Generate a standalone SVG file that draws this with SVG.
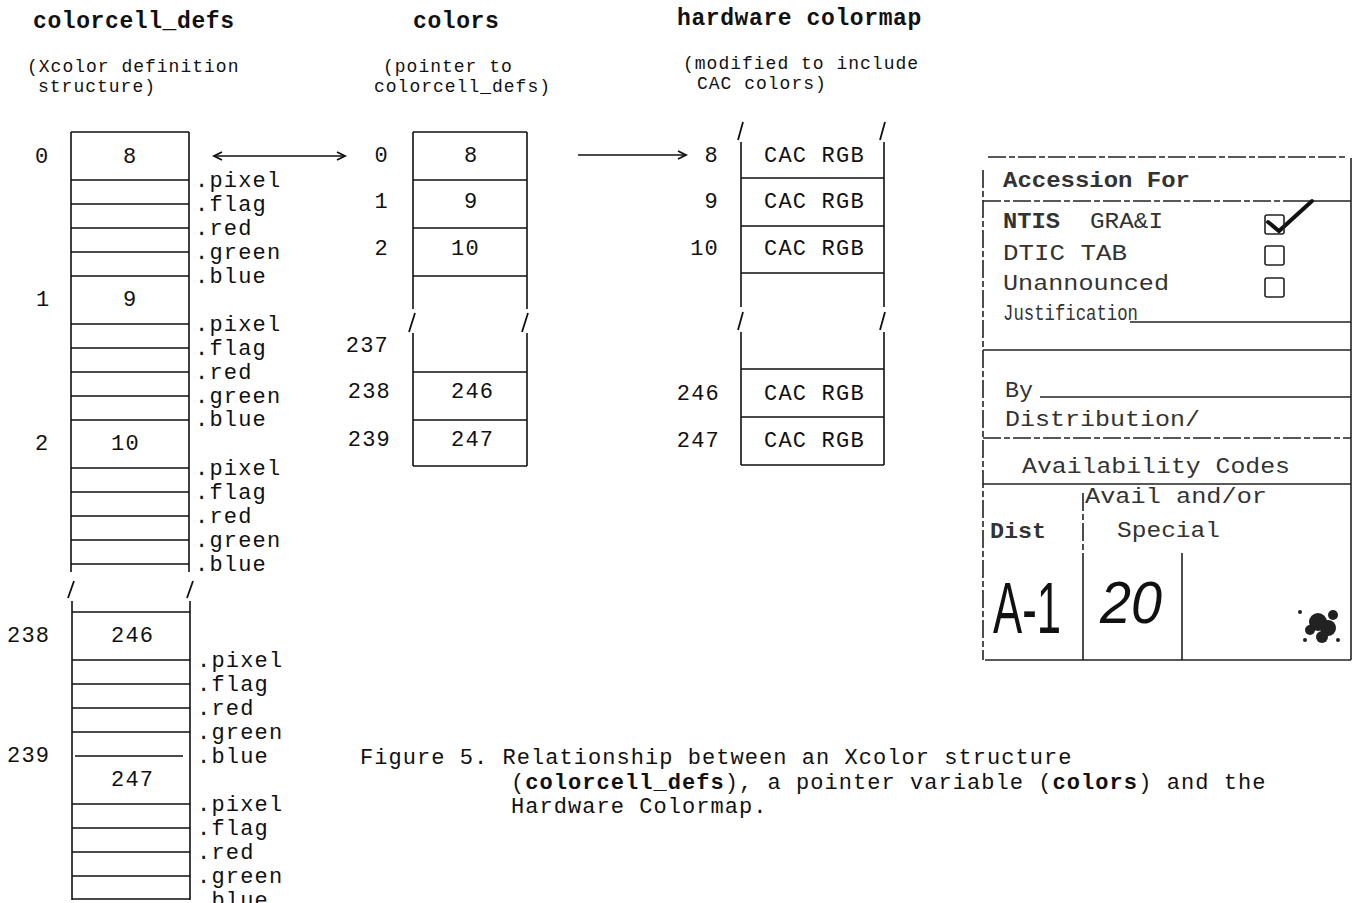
<svg xmlns="http://www.w3.org/2000/svg" width="1355" height="903" viewBox="0 0 1355 903">
<style>
text{font-family:"Liberation Mono","Courier New",monospace;fill:#111}
.t{font-size:22px;letter-spacing:1.2px}
.c{font-size:22px;letter-spacing:1.05px}
.h{font-size:23px;font-weight:bold;letter-spacing:0.6px}
.s{font-size:18px;letter-spacing:1px}
.b{font-weight:bold}
.ln{stroke:#111;stroke-width:1.6;fill:none}
.sl{stroke:#111;stroke-width:1.8;fill:none}
.acc{stroke:#222;stroke-width:1.6;fill:none}
.dsh{stroke-dasharray:18 3 6 3}
.a{font-size:22px;fill:#333}
.hw{font-family:"Liberation Sans",Arial,sans-serif;fill:#111}
</style>
<defs>
<marker id="chev" markerWidth="12" markerHeight="12" refX="9" refY="5" orient="auto-start-reverse" markerUnits="userSpaceOnUse">
<path d="M1,1 L9,5 L1,9" fill="none" stroke="#111" stroke-width="1.8"/>
</marker>
</defs>
<rect width="1355" height="903" fill="#fff"/>

<g id="headers">
<text class="h" x="33" y="28">colorcell_defs</text>
<text class="h" x="413" y="28">colors</text>
<text class="h" x="677" y="25">hardware colormap</text>
<text class="s" x="27" y="72">(Xcolor definition</text>
<text class="s" x="38" y="92">structure)</text>
<text class="s" x="383" y="72">(pointer to</text>
<text class="s" x="374" y="92">colorcell_defs)</text>
<text class="s" x="683" y="69">(modified to include</text>
<text class="s" x="697" y="89">CAC colors)</text>
</g>

<g id="colorcell_defs">
<path class="ln" d="M71,132 H189 M71,132 V572 M189,132 V572
M71,180 H189 M71,204 H189 M71,228 H189 M71,252 H189 M71,276 H189
M71,324 H189 M71,348 H189 M71,372 H189 M71,396 H189 M71,420 H189
M71,468 H189 M71,492 H189 M71,516 H189 M71,540 H189 M71,564 H189"/>
<path class="sl" d="M68,598 L74,581 M187,598 L193,581"/>
<path class="ln" d="M72,601 V900 M190,601 V900
M72,612 H190 M72,660 H190 M72,684 H190 M72,708 H190 M72,732 H190 M75,756 H183
M72,804 H190 M72,828 H190 M72,852 H190 M72,876 H190 M72,899 H190"/>
<g class="t">
<text x="35" y="163">0</text><text x="123" y="163">8</text>
<text x="36" y="306">1</text><text x="123" y="306">9</text>
<text x="35" y="450">2</text><text x="111" y="450">10</text>
<text x="7" y="642">238</text><text x="111" y="642">246</text>
<text x="7" y="762">239</text><text x="111" y="786">247</text>
</g>
<g class="t">
<text x="195" y="187">.pixel</text><text x="195" y="211">.flag</text><text x="195" y="235">.red</text><text x="195" y="259">.green</text><text x="195" y="283">.blue</text>
<text x="195" y="331">.pixel</text><text x="195" y="355">.flag</text><text x="195" y="379">.red</text><text x="195" y="403">.green</text><text x="195" y="426">.blue</text>
<text x="195" y="475">.pixel</text><text x="195" y="499">.flag</text><text x="195" y="523">.red</text><text x="195" y="547">.green</text><text x="195" y="571">.blue</text>
<text x="197" y="667">.pixel</text><text x="197" y="691">.flag</text><text x="197" y="715">.red</text><text x="197" y="739">.green</text><text x="197" y="763">.blue</text>
<text x="197" y="811">.pixel</text><text x="197" y="835">.flag</text><text x="197" y="859">.red</text><text x="197" y="883">.green</text><text x="197" y="907">.blue</text>
</g>
</g>

<g id="colors">
<path class="ln" d="M413,132 H527 M413,132 V309 M527,132 V309 M413,180 H527 M413,228 H527 M413,276 H527"/>
<path class="sl" d="M409,332 L415,313 M522,332 L528,313"/>
<path class="ln" d="M413,333 V466 M527,333 V466 M413,372 H527 M413,420 H527 M413,466 H527"/>
<g class="t">
<text x="389" y="162" text-anchor="end">0</text><text x="464" y="162">8</text>
<text x="389" y="208" text-anchor="end">1</text><text x="464" y="208">9</text>
<text x="389" y="255" text-anchor="end">2</text><text x="451" y="255">10</text>
<text x="389" y="352" text-anchor="end">237</text>
<text x="391" y="398" text-anchor="end">238</text><text x="451" y="398">246</text>
<text x="391" y="446" text-anchor="end">239</text><text x="451" y="446">247</text>
</g>
</g>

<g id="hardware_colormap">
<path class="sl" d="M738,140 L743,122 M880,140 L885,122"/>
<path class="ln" d="M741,142 V307 M884,142 V307 M741,178 H884 M741,226 H884 M741,273 H884"/>
<path class="sl" d="M738,330 L743,312 M880,330 L885,312"/>
<path class="ln" d="M741,332 V465 M884,332 V465 M741,369 H884 M741,417 H884 M741,465 H884"/>
<g class="t">
<text x="719" y="162" text-anchor="end">8</text><text x="764" y="162">CAC RGB</text>
<text x="719" y="208" text-anchor="end">9</text><text x="764" y="208">CAC RGB</text>
<text x="719" y="255" text-anchor="end">10</text><text x="764" y="255">CAC RGB</text>
<text x="720" y="400" text-anchor="end">246</text><text x="764" y="400">CAC RGB</text>
<text x="720" y="447" text-anchor="end">247</text><text x="764" y="447">CAC RGB</text>
</g>
</g>

<g id="connectors">
<line class="ln" x1="214" y1="156" x2="345" y2="156" marker-start="url(#chev)" marker-end="url(#chev)"/>
<line class="ln" x1="578" y1="155" x2="686" y2="155" marker-end="url(#chev)"/>
</g>

<g id="caption" class="c">
<text x="360" y="764">Figure 5. Relationship between an Xcolor structure</text>
<text x="511" y="789">(<tspan class="b">colorcell_defs</tspan>), a pointer variable (<tspan class="b">colors</tspan>) and the</text>
<text x="511" y="813">Hardware Colormap.</text>
</g>

<g id="accession_form">
<path class="acc dsh" d="M988,157 H1345"/>
<path class="acc dsh" d="M983,170 V660"/>
<path class="acc" d="M1351,158 V660"/>
<path class="acc dsh" d="M983,201 H1300"/>
<path class="acc" d="M1300,201 H1351" stroke-width="3"/>
<path d="M1268,222 L1279,231 L1312,201" fill="none" stroke="#111" stroke-width="4" stroke-linecap="round"/>
<rect class="acc" x="1265" y="215" width="19" height="19" rx="2"/>
<rect class="acc" x="1265" y="246" width="19" height="19" rx="2"/>
<rect class="acc" x="1265" y="278" width="19" height="19" rx="2"/>
<path class="acc" d="M1130,322 H1351"/>
<path class="acc" d="M983,350 H1351"/>
<path class="acc" d="M1040,397 H1351"/>
<path class="acc dsh" d="M983,438 H1351"/>
<path class="acc" d="M983,484 H1351"/>
<path class="acc dsh" d="M1083,493 V553"/>
<path class="acc" d="M1083,553 V660 M1182,553 V660" stroke-width="3"/>
<path class="acc" d="M985,660 H1351"/>
<text class="a b" x="1003" y="187" textLength="187" lengthAdjust="spacingAndGlyphs">Accession For</text>
<text class="a b" x="1003" y="228" textLength="57" lengthAdjust="spacingAndGlyphs">NTIS</text>
<text class="a" x="1090" y="228" textLength="73" lengthAdjust="spacingAndGlyphs">GRA&amp;I</text>
<text class="a" x="1003" y="260" textLength="124" lengthAdjust="spacingAndGlyphs">DTIC TAB</text>
<text class="a" x="1003" y="290" textLength="166" lengthAdjust="spacingAndGlyphs">Unannounced</text>
<text class="a" x="1003" y="320" textLength="135" lengthAdjust="spacingAndGlyphs">Justification</text>
<text class="a" x="1005" y="397" textLength="28" lengthAdjust="spacingAndGlyphs">By</text>
<text class="a" x="1005" y="426" textLength="195" lengthAdjust="spacingAndGlyphs">Distribution/</text>
<text class="a" x="1022" y="473" textLength="268" lengthAdjust="spacingAndGlyphs">Availability Codes</text>
<text class="a" x="1085" y="503" textLength="182" lengthAdjust="spacingAndGlyphs">Avail and/or</text>
<text class="a b" x="990" y="538" textLength="56" lengthAdjust="spacingAndGlyphs">Dist</text>
<text class="a" x="1117" y="537" textLength="103" lengthAdjust="spacingAndGlyphs">Special</text>
<text class="hw" x="993" y="633" font-size="72" textLength="68" lengthAdjust="spacingAndGlyphs">A-1</text>
<text class="hw" x="1100" y="623" font-size="60" font-style="italic" textLength="62" lengthAdjust="spacingAndGlyphs">20</text>
<g fill="#222">
<circle cx="1318" cy="622" r="9"/><circle cx="1328" cy="628" r="8"/><circle cx="1310" cy="630" r="5"/>
<circle cx="1333" cy="615" r="5"/><circle cx="1322" cy="637" r="6"/><circle cx="1300" cy="612" r="2"/>
<circle cx="1338" cy="640" r="2"/><circle cx="1305" cy="640" r="2"/>
</g>
</g>
</svg>
